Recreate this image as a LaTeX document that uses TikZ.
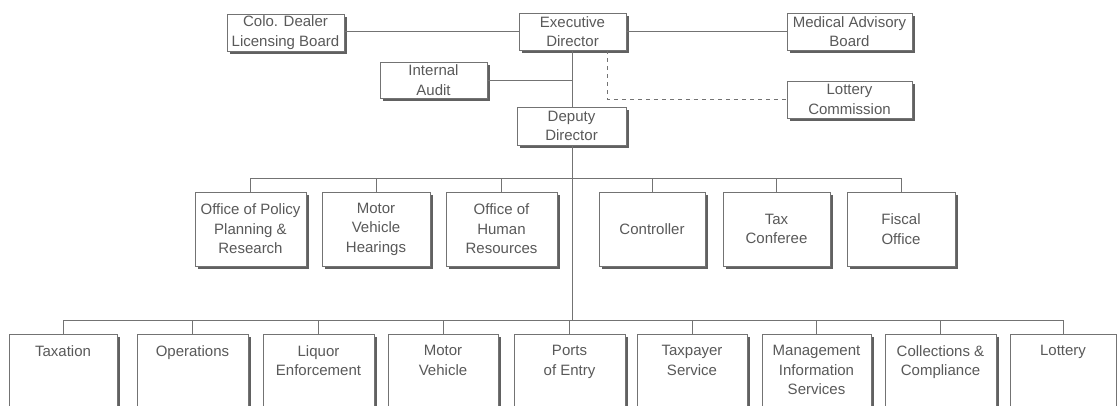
\documentclass[tikz,border=0pt]{standalone}
\usepackage{fontspec}
\setmainfont{Liberation Sans}
\usetikzlibrary{shadows}
\definecolor{linec}{gray}{0.45}
\definecolor{txtc}{gray}{0.35}
\definecolor{shadc}{gray}{0.38}
\tikzset{
  orgbox/.style={draw=linec, line width=0.8pt, fill=white, inner sep=0pt,
    align=center, text=txtc, font=\fontsize{15}{19.5}\selectfont,
    drop shadow={shadow xshift=3pt, shadow yshift=-3pt, fill=shadc, opacity=1}},
  lbl/.style={inner sep=0pt, align=center, text=txtc, font=\fontsize{15}{19.5}\selectfont},
  link/.style={draw=linec, line width=0.8pt},
  dlink/.style={link, dash pattern=on 4pt off 4pt},
}
\newcommand\obox[6]{%
  \node[orgbox, minimum width={(#4-#2)*1pt}, minimum height={(#5-#3)*1pt}]
    (#1) at ({(#2+#4)/2},{(#3+#5)/2}) {#6};}
\newcommand\tbox[4]{%
  \node[orgbox, minimum width={(#3-#2)*1pt}, minimum height=90pt, anchor=north]
    (#1) at ({(#2+#3)/2},334) {};
  \node[lbl, anchor=north] (#1-t) at ([yshift=-11pt]#1.north) {#4};}
\begin{document}
\begin{tikzpicture}[x=1pt, y=-1pt]
\useasboundingbox (0,0) rectangle (1117,405);
% top level
\obox{colo}{227}{14}{344}{51}{Colo. Dealer\\Licensing Board}
\obox{exec}{519}{13}{626}{50}{Executive\\Director}
\obox{med}{787}{13}{912}{50}{Medical Advisory\\Board}
\obox{audit}{380}{62}{487}{98}{Internal\\Audit}
\obox{lotcom}{787}{81}{912}{118}{Lottery\\Commission}
\obox{deputy}{517}{107}{626}{145}{Deputy\\Director}
% middle row
\obox{pol}{195}{192}{306}{266}{Office of Policy\\Planning \&\\Research}
\obox{mvh}{322}{192}{430}{266}{Motor\\Vehicle\\Hearings}
\obox{ohr}{446}{192}{557}{266}{Office of\\Human\\Resources}
\obox{ctl}{599}{192}{705}{266}{Controller}
\obox{taxc}{723}{192}{830}{266}{Tax\\Conferee}
\obox{fis}{847}{192}{955}{266}{Fiscal\\Office}
% bottom row
\tbox{taxn}{9}{117}{Taxation}
\tbox{ops}{137}{248}{Operations}
\tbox{liq}{263}{374}{Liquor\\Enforcement}
\tbox{mv}{388}{498}{Motor\\Vehicle}
\tbox{poe}{514}{625}{Ports\\of Entry}
\tbox{tps}{637}{747}{Taxpayer\\Service}
\tbox{mis}{762}{871}{Management\\Information\\Services}
\tbox{col}{885}{996}{Collections \&\\Compliance}
\tbox{lot}{1010}{1116}{Lottery}
% connectors
\coordinate (bb) at (0,320);
\draw[link] (exec.west) -- (exec.west -| colo.east);
\draw[link] (exec.east) -- (exec.east -| med.west);
\draw[link] (exec.south) -- (exec.south |- deputy.north);
\draw[link] (audit.east) -- (audit.east -| exec.south);
\draw[dlink] ([xshift=35pt]exec.south) |- (lotcom.west);
\draw[link] (exec.south |- deputy.south) -- (exec.south |- bb);
% middle bus
\draw[link] (pol.north) -- ++(0,-13) -| (fis.north);
\foreach \n in {mvh,ohr,ctl,taxc}{\draw[link] (\n.north) -- ++(0,-13);}
% bottom bus
\draw[link] (taxn.north) -- ++(0,-14) -| (lot.north);
\foreach \n in {ops,liq,mv,poe,tps,mis,col}{\draw[link] (\n.north) -- ++(0,-14);}
\end{tikzpicture}
\end{document}
